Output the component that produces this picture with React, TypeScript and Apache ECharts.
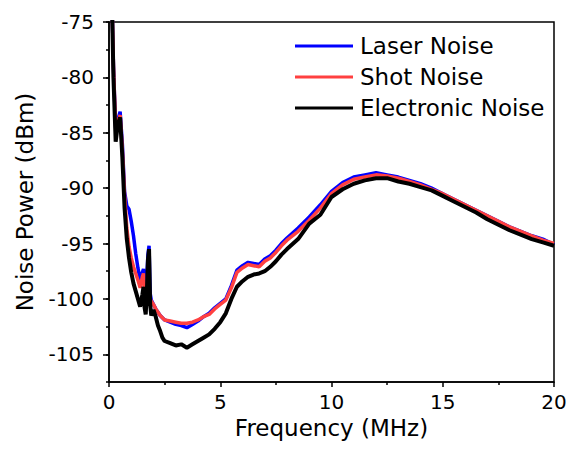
import React, { useEffect, useRef } from "react";
import * as echarts from "echarts";

const freq = [
  0.1, 0.2, 0.3, 0.4, 0.5, 0.6, 0.7, 0.8, 0.9, 1.0, 1.1, 1.2, 1.3, 1.4, 1.5, 1.55, 1.6, 1.65, 1.7, 1.75,
  1.8, 1.85, 1.9, 2.0, 2.1, 2.2, 2.3, 2.4, 2.5, 2.75, 3.0, 3.25, 3.5, 3.75, 4.0, 4.25, 4.5, 4.75, 5.0,
  5.25, 5.5, 5.75, 6.0, 6.25, 6.5, 6.75, 7.0, 7.25, 7.5, 7.75, 8.0, 8.5, 9.0, 9.5, 10, 10.5, 11, 11.5,
  12, 12.5, 13, 13.5, 14, 14.5, 15, 15.5, 16, 16.5, 17, 17.5, 18, 18.5, 19, 19.5, 20,
];

const laserNoise = [
  -70, -79, -84.6, -83.8, -83.1, -86.0, -90.3, -91.6, -91.9, -93.0, -94.3, -95.9, -97.2, -98.3, -97.6,
  -97.3, -98.5, -98.8, -98.0, -96.0, -95.2, -99.5, -100.1, -100.5, -100.9, -101.2, -101.5, -101.7,
  -101.9, -102.1, -102.3, -102.4, -102.6, -102.3, -102.0, -101.6, -101.3, -100.8, -100.4, -100.0,
  -98.8, -97.4, -97.0, -96.7, -96.8, -96.9, -96.4, -96.1, -95.6, -95.0, -94.5, -93.6, -92.6, -91.5,
  -90.3, -89.5, -89.0, -88.8, -88.6, -88.8, -89.0, -89.3, -89.6, -90.0, -90.5, -91.0, -91.5, -92.0,
  -92.5, -93.0, -93.5, -93.9, -94.3, -94.6, -95.1,
];

const shotNoise = [
  -70, -79, -84.5, -84.0, -83.4, -86.5, -90.6, -93.6, -95.3, -96.3, -97.1, -97.7, -98.3, -99.0, -98.0,
  -97.7, -99.2, -99.6, -99.4, -98.8, -99.3, -100.0, -100.2, -100.5, -100.9, -101.2, -101.5, -101.7,
  -101.9, -102.0, -102.1, -102.2, -102.2, -102.1, -101.9, -101.6, -101.4, -100.9, -100.5, -100.1,
  -99.0, -97.6, -97.2, -96.9, -97.0, -97.1, -96.6, -96.3, -95.8, -95.2, -94.7, -93.9, -92.9, -91.8,
  -90.5, -89.7, -89.2, -89.0, -88.8, -88.9, -89.1, -89.4, -89.7, -90.1, -90.5, -91.0, -91.5, -92.0,
  -92.5, -93.0, -93.5, -93.9, -94.3, -94.7, -95.0,
];

const electronicNoise = [
  -70, -80, -85.8, -84.2, -83.6, -87.2, -91.8, -94.6, -96.3, -97.6, -98.6, -99.3, -100.0, -100.7, -99.6,
  -98.9, -100.8, -101.4, -99.5, -96.5, -95.5, -100.5, -101.5, -101.0, -101.6, -102.4, -102.9, -103.5,
  -103.8, -104.0, -104.2, -104.1, -104.4, -104.1, -103.8, -103.5, -103.2, -102.7, -102.1, -101.3,
  -100.0, -98.9, -98.4, -98.0, -97.8, -97.7, -97.5, -97.1, -96.6, -96.0, -95.5, -94.6, -93.2, -92.4,
  -90.8, -90.1, -89.6, -89.3, -89.1, -89.1, -89.4, -89.6, -89.9, -90.2, -90.7, -91.2, -91.7, -92.2,
  -92.8, -93.3, -93.8, -94.2, -94.6, -94.9, -95.2,
];

const yMajorTicks = [-105, -100, -95, -90, -85, -80, -75];
const seriesNames = ["Laser Noise", "Shot Noise", "Electronic Noise"];
const seriesColors = ["#0000FF", "#FF4040", "#000000"];

const FONT = "DejaVu Sans";

export default function App() {
  const ref = useRef<HTMLDivElement>(null);
  useEffect(() => {
    if (!ref.current) return;
    const chart = echarts.init(ref.current, null, { renderer: "svg" });
    const values = [laserNoise, shotNoise, electronicNoise];
    chart.setOption({
      animation: false,
      backgroundColor: "#ffffff",
      grid: {
        left: 109,
        right: 20,
        top: 22,
        bottom: 68,
        show: true,
        borderColor: "#000",
        borderWidth: 1.5,
        backgroundColor: "transparent",
      },
      legend: {
        orient: "vertical",
        left: 295,
        top: 33,
        padding: 0,
        itemGap: 5,
        itemWidth: 58,
        itemHeight: 3,
        icon: "rect",
        data: seriesNames,
        textStyle: {
          fontFamily: FONT,
          fontSize: 23,
          color: "#000",
          lineHeight: 26,
          padding: [0, 0, 0, 2],
        },
      },
      xAxis: {
        type: "value",
        min: 0,
        max: 20,
        interval: 5,
        name: "Frequency (MHz)",
        nameLocation: "middle",
        nameGap: 34,
        nameTextStyle: { fontFamily: FONT, fontSize: 23, color: "#000" },
        axisLine: { show: true, lineStyle: { color: "#000", width: 1.5 } },
        axisTick: { show: true, length: 5, lineStyle: { color: "#000", width: 1.5 } },
        minorTick: { show: true, splitNumber: 2, length: 3, lineStyle: { color: "#000", width: 1.5 } },
        axisLabel: { fontFamily: FONT, fontSize: 20, color: "#000", margin: 10 },
        splitLine: { show: false },
      },
      yAxis: [
        {
          type: "value",
          min: -107.5,
          max: -75,
          interval: 2.5,
          name: "Noise Power (dBm)",
          nameLocation: "middle",
          nameGap: 73,
          nameTextStyle: { fontFamily: FONT, fontSize: 23, color: "#000" },
          axisLine: { show: true, lineStyle: { color: "#000", width: 1.5 } },
          axisTick: { show: true, length: 3, lineStyle: { color: "#000", width: 1.5 } },
          axisLabel: { show: false },
          splitLine: { show: false },
        },
        {
          type: "value",
          min: -107.5,
          max: -75,
          position: "left",
          axisLine: { show: false },
          axisTick: {
            show: true,
            length: 6,
            customValues: yMajorTicks,
            lineStyle: { color: "#000", width: 1.5 },
          },
          axisLabel: {
            show: true,
            customValues: yMajorTicks,
            fontFamily: FONT,
            fontSize: 20,
            color: "#000",
            margin: 15,
          },
          splitLine: { show: false },
        },
      ],
      series: seriesNames.map((name, i) => ({
        name,
        type: "line",
        yAxisIndex: 0,
        data: freq.map((f, j) => [f, values[i][j]]),
        showSymbol: false,
        symbol: "none",
        clip: true,
        lineStyle: { color: seriesColors[i], width: i === 2 ? 4 : 3.5 },
        itemStyle: { color: seriesColors[i] },
        z: 2 + i,
      })),
    });
    return () => chart.dispose();
  }, []);
  return (
    <div
      ref={ref}
      style={{ position: "absolute", left: 0, top: 0, width: 574, height: 450 }}
    />
  );
}
